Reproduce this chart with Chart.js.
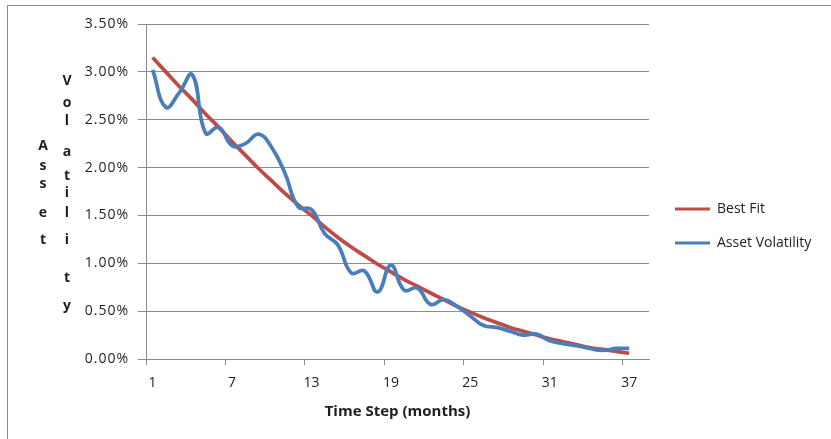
<!DOCTYPE html>
<html><head><meta charset="utf-8">
<script src="https://cdn.jsdelivr.net/npm/chart.js@4/dist/chart.umd.min.js"></script>
<style>html,body{margin:0;padding:0;background:#fff;overflow:hidden}</style>
</head><body>
<canvas id="c" width="831" height="439"></canvas>
<script>
// ---- data ----
const months = ['1','2','3','4','5','6','7','8','9','10','11','12','13','14','15','16','17','18','19',
  '20','21','22','23','24','25','26','27','28','29','30','31','32','33','34','35','36','37','38'];
const assetVolatility = [3.02,2.63,2.78,2.97,2.36,2.42,2.23,2.25,2.35,2.21,1.94,1.59,1.56,1.31,1.19,0.90,0.92,0.70,0.98,
  0.72,0.74,0.57,0.62,0.55,0.45,0.35,0.33,0.29,0.25,0.26,0.19,0.16,0.14,0.11,0.09,0.11,0.11];
const bestFit = [3.15,3.00,2.85,2.71,2.56,2.42,2.27,2.13,1.99,1.86,1.73,1.61,1.50,1.38,1.27,1.17,1.08,0.99,0.91,
  0.83,0.76,0.69,0.62,0.55,0.49,0.43,0.38,0.33,0.29,0.25,0.21,0.18,0.15,0.12,0.10,0.08,0.06];
const seriesNames = ['Asset Volatility','Best Fit'];
const xTitle = 'Time Step (months)';
const yTitleWords = ['Asset','Volatility'];

const FONT = '"Open Sans", "Liberation Sans", sans-serif';
const GRID = '#8c8c8c';
const TEXT = '#1e1e1e';
const LEGEND_SIZE = 14;

const titlePos = {
  Asset: {x: 43, y: [146,166,184,213,240]},
  Volatility: {x: 67, y: [81,103,121,152,176,193,213,240,278,306]}
};

// legend width so that the plot area ends at x = 649
const mctx = document.createElement('canvas').getContext('2d');
mctx.font = LEGEND_SIZE + 'px ' + FONT;
const legendTextW = Math.max(...seriesNames.map(s => mctx.measureText(s).width));
const legendW = 20 + 35 + LEGEND_SIZE / 2 + legendTextW + 10;
const padRight = Math.max(0, 831 - 649 - legendW);

function spaced(scale, px) {
  if (scale._spaced) return;
  const orig = scale.drawLabels;
  scale.drawLabels = function (ca) {
    const c = this.ctx;
    c.save();
    c.letterSpacing = px;
    orig.call(this, ca);
    c.restore();
    c.letterSpacing = '0px';
  };
  scale._spaced = true;
}

const deco = {
  id: 'deco',
  beforeDraw(chart) {
    const c = chart.ctx;
    c.save();
    c.fillStyle = '#fff';
    c.fillRect(0, 0, chart.width, chart.height);
    c.strokeStyle = GRID; c.lineWidth = 1;
    c.strokeRect(7.5, 5.5, chart.width + 10, chart.height + 10);
    c.restore();
  },
  afterLayout(chart) {
    const lg = chart.legend;
    if (!lg) return;
    const dx = 675 - 20 - lg.left;
    lg.left += dx; lg.right += dx;
    const h = lg.bottom - lg.top;
    lg.top = 182; lg.bottom = 182 + h;
  },
  afterDraw(chart) {
    const c = chart.ctx;
    c.save();
    c.font = 'bold 14px ' + FONT;
    c.fillStyle = TEXT;
    c.textAlign = 'center';
    c.textBaseline = 'middle';
    yTitleWords.forEach(w => {
      const p = titlePos[w];
      [...w].forEach((ch, i) => c.fillText(ch, p.x, p.y[i]));
    });
    c.restore();
  }
};

new Chart(document.getElementById('c'), {
  type: 'line',
  data: {
    labels: months,
    datasets: [
      {label: seriesNames[0], data: assetVolatility, borderColor: '#4a7ebb', backgroundColor: '#4a7ebb',
       borderWidth: 3.75, pointRadius: 0, tension: 0.45, fill: false},
      {label: seriesNames[1], data: bestFit, borderColor: '#be4b48', backgroundColor: '#be4b48',
       borderWidth: 3.75, pointRadius: 0, tension: 0.45, fill: false}
    ]
  },
  plugins: [deco],
  options: {
    responsive: false,
    animation: false,
    layout: {padding: {left: 0, top: 24, right: padRight, bottom: 0}},
    font: {family: FONT},
    plugins: {
      tooltip: {enabled: false},
      legend: {
        position: 'right',
        align: 'start',
        labels: {
          font: {family: FONT, size: LEGEND_SIZE},
          color: TEXT,
          boxWidth: 35,
          boxHeight: 3,
          padding: 20,
          generateLabels(chart) {
            const items = Chart.defaults.plugins.legend.labels.generateLabels(chart);
            items.forEach(it => { it.lineWidth = 0; it.fillStyle = it.strokeStyle; });
            return items.reverse();
          }
        }
      }
    },
    scales: {
      x: {
        type: 'category',
        offset: true,
        grid: {
          offset: true,
          drawOnChartArea: false,
          tickLength: 6,
          tickColor: ctx => (ctx.index !== undefined && ctx.index % 6 === 0) ? GRID : 'rgba(0,0,0,0)'
        },
        border: {color: GRID, width: 1},
        ticks: {
          autoSkip: false, maxRotation: 0, padding: 10,
          color: TEXT, font: {family: FONT, size: 14},
          callback: (v, i) => (i % 6 === 0 ? months[i] : '')
        },
        title: {display: true, text: xTitle, color: TEXT,
          font: {family: FONT, size: 15, weight: 'bold'}, padding: {top: 0, bottom: 18}},
        afterFit(s) { s.height = 80; }
      },
      y: {
        min: 0, max: 3.5,
        grid: {color: GRID, tickLength: 8, tickColor: GRID},
        border: {color: GRID, width: 1},
        ticks: {stepSize: 0.5, padding: 9, color: TEXT, font: {family: FONT, size: 14},
          callback: v => v.toFixed(2) + '%'},
        afterFit(s) { s.width = 146; spaced(s, '1px'); }
      }
    }
  }
});
</script>
</body></html>
